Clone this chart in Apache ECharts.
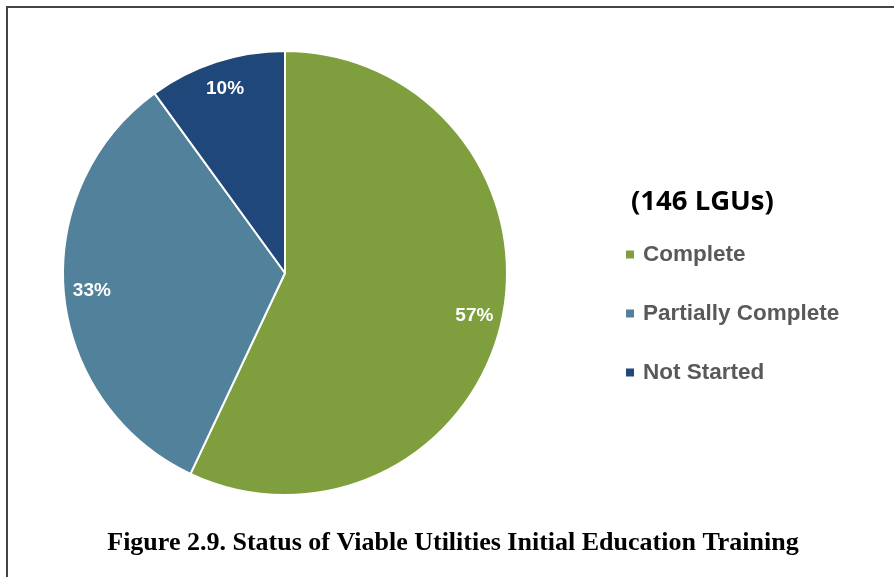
<!DOCTYPE html>
<html lang="en">
<head>
    <meta charset="UTF-8">
    <title>Viable Utilities Initial Education Training</title>
    <style>
        html, body{
            margin: 0;
            padding: 0;
            background-color: #fff;
        }
        #main{
            width: 894px;
            height: 577px;
        }
    </style>
    <script src="https://cdn.jsdelivr.net/npm/echarts@6/dist/echarts.min.js"></script>
</head>
<body>
<div id="main"></div>
<script type="text/javascript">
    // data
    var categories = ['Complete', 'Partially Complete', 'Not Started'];
    var shares = [57, 33, 10];
    var colors = ['#7f9f3f', '#51819b', '#1f4779'];
    var captionText = 'Figure 2.9. Status of Viable Utilities Initial Education Training';
    var countText = '(146 LGUs)';

    var pieData = categories.map(function (name, i) {
        return {name: name, value: shares[i], itemStyle: {color: colors[i]}};
    });

    var myChart = echarts.init(document.getElementById('main'));

    var option = {
        animation: false,
        title: [{
            text: captionText,
            left: 453,
            top: 530,
            padding: 0,
            textAlign: 'center',
            textStyle: {
                fontFamily: 'Liberation Serif',
                fontWeight: 'bold',
                fontSize: 26,
                color: '#000'
            }
        }, {
            text: countText,
            left: 631,
            top: 188,
            padding: 0,
            textStyle: {
                fontFamily: 'Open Sans',
                fontWeight: 'bold',
                fontSize: 27.5,
                color: '#000'
            }
        }],
        legend: {
            orient: 'vertical',
            left: 624,
            top: 243,
            padding: 0,
            itemGap: 36,
            icon: 'rect',
            itemWidth: 10,
            itemHeight: 10,
            data: categories,
            textStyle: {
                fontFamily: 'Liberation Sans',
                fontWeight: 'bold',
                fontSize: 22.5,
                color: '#595959',
                padding: [0, 0, 0, 3]
            }
        },
        graphic: [{
            type: 'polyline',
            shape: {points: [[7, 577], [7, 7], [894, 7]]},
            style: {stroke: '#444', lineWidth: 2, fill: null},
            silent: true
        }],
        series: [{
            name: 'status',
            type: 'pie',
            center: [285, 273],
            radius: 222,
            startAngle: 90,
            clockwise: true,
            label: {show: false},
            labelLine: {show: false},
            itemStyle: {borderColor: '#fff', borderWidth: 2},
            emphasis: {disabled: true},
            data: pieData
        }, {
            // transparent ring only used to push the labels out near the rim
            name: 'labels',
            type: 'pie',
            center: [285, 273],
            radius: [160, 222],
            startAngle: 90,
            clockwise: true,
            silent: true,
            itemStyle: {color: 'transparent'},
            emphasis: {disabled: true},
            labelLine: {show: false},
            label: {
                show: true,
                position: 'inside',
                formatter: '{c}%',
                fontFamily: 'Liberation Sans',
                fontWeight: 'bold',
                fontSize: 19,
                color: '#fff'
            },
            data: categories.map(function (name, i) {
                return {name: name, value: shares[i]};
            })
        }]
    };

    myChart.setOption(option);
</script>
</body>
</html>
